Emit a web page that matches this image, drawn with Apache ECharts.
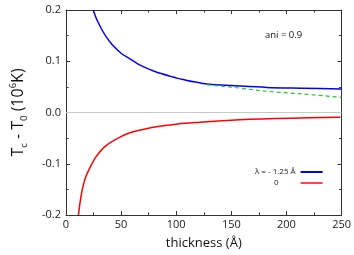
<!DOCTYPE html>
<html><head><meta charset="utf-8">
<script src="https://cdn.jsdelivr.net/npm/echarts@6/dist/echarts.min.js"></script>
<style>html,body{margin:0;padding:0;background:#fff}#c{width:354px;height:255px}</style>
</head><body><div id="c"></div>
<script>
const blueX = [24.7, 28, 33, 37, 42, 50, 57, 65, 72, 80, 87, 95, 101.5, 108, 116, 123, 130, 150, 182, 215, 250];
const blueY = [0.2, 0.181, 0.160, 0.146, 0.132, 0.1156, 0.106, 0.095, 0.0875, 0.0805, 0.0755, 0.0705, 0.0666, 0.0635, 0.0598, 0.0572, 0.0549, 0.0525, 0.049, 0.0475, 0.046];
const greenX = [128, 150, 182, 215, 250];
const greenY = [0.054, 0.0495, 0.0415, 0.036, 0.0296];
const redX = [11.3, 13, 15.2, 18, 21.2, 27, 36, 49.4, 60, 71.7, 85, 101.5, 122, 150, 190, 220, 249];
const redY = [-0.2, -0.172, -0.146, -0.125, -0.110, -0.087, -0.065, -0.0474, -0.038, -0.032, -0.027, -0.0223, -0.019, -0.015, -0.0118, -0.0103, -0.0091];
const seriesNames = ['λ = - 1.25 Å', '0'];
const annotation = 'ani = 0.9';

const zip = (xs, ys) => xs.map((x, i) => [x, ys[i]]);
const F = '"Open Sans", sans-serif';
const axisCol = '#333';
const chart = echarts.init(document.getElementById('c'));
const common = () => ({
  axisLine: {show: true, onZero: false, lineStyle: {color: axisCol, width: 1}},
  axisTick: {show: true, inside: true, length: 4, lineStyle: {color: axisCol}},
  minorTick: {show: true, splitNumber: 2, length: 2.5, lineStyle: {color: axisCol}},
  splitLine: {show: false}
});
chart.setOption({
  animation: false,
  grid: {left: 63, right: 11, top: 10, bottom: 40},
  xAxis: [
    Object.assign({type: 'value', min: 0, max: 250, interval: 50, position: 'bottom',
      name: 'thickness (Å)', nameLocation: 'middle', nameGap: 22,
      nameTextStyle: {fontFamily: F, fontSize: 13, color: '#111'},
      axisLabel: {fontFamily: F, fontSize: 11, color: '#222', margin: 4}}, common()),
    Object.assign({type: 'value', min: 0, max: 250, interval: 50, position: 'top',
      axisLabel: {show: false}}, common())
  ],
  yAxis: [
    Object.assign({type: 'value', min: -0.2, max: 0.2, interval: 0.1, position: 'left',
      name: '{m|T}{s|c}{m| - T}{s|0}{m| (10}{p|6}{m|K)}', nameLocation: 'middle', nameGap: 37, nameRotate: 90,
      nameTextStyle: {rich: {
        m: {fontFamily: F, fontSize: 16, color: '#111', lineHeight: 21, verticalAlign: 'middle'},
        s: {fontFamily: F, fontSize: 9.5, color: '#111', lineHeight: 21, verticalAlign: 'bottom'},
        p: {fontFamily: F, fontSize: 9.5, color: '#111', lineHeight: 21, verticalAlign: 'top'}
      }},
      axisLabel: {fontFamily: F, fontSize: 11, color: '#222', margin: 5, formatter: v => v.toFixed(1)}}, common()),
    Object.assign({type: 'value', min: -0.2, max: 0.2, interval: 0.1, position: 'right',
      axisLabel: {show: false}}, common())
  ],
  legend: [
    {data: [seriesNames[0]], orient: 'vertical', align: 'right', left: 250, top: 163,
      itemWidth: 22, itemHeight: 8, icon: 'path://M0,0 L22,0 L22,2 L0,2 Z',
      textStyle: {fontFamily: F, fontSize: 8, color: '#222'}},
    {data: [seriesNames[1]], orient: 'vertical', align: 'right', left: 269, top: 174,
      itemWidth: 22, itemHeight: 8, icon: 'path://M0,0 L22,0 L22,2 L0,2 Z',
      textStyle: {fontFamily: F, fontSize: 8, color: '#222', padding: [0, 17, 0, 0]}}
  ],
  graphic: [{type: 'text', left: 265, top: 30, style: {text: annotation, font: '9.5px ' + F, fill: '#111'}}],
  series: [
    {name: seriesNames[0], type: 'line', data: zip(blueX, blueY), showSymbol: false, smooth: 0.3, clip: true,
      lineStyle: {color: '#0000ff', width: 1.5}, itemStyle: {color: '#0000ff'},
      markLine: {silent: true, symbol: 'none', label: {show: false}, lineStyle: {color: '#c8c8c8', width: 1, type: 'solid'}, data: [{yAxis: 0}]}},
    {name: 'green', type: 'line', data: zip(greenX, greenY), showSymbol: false, smooth: 0.3, clip: true,
      lineStyle: {color: '#22cc22', width: 1.2, type: [4, 3]}, itemStyle: {color: '#22cc22'}},
    {name: seriesNames[1], type: 'line', data: zip(redX, redY), showSymbol: false, smooth: 0.3, clip: true,
      lineStyle: {color: '#ff0000', width: 1.5}, itemStyle: {color: '#ff4444'}}
  ]
});
</script></body></html>
